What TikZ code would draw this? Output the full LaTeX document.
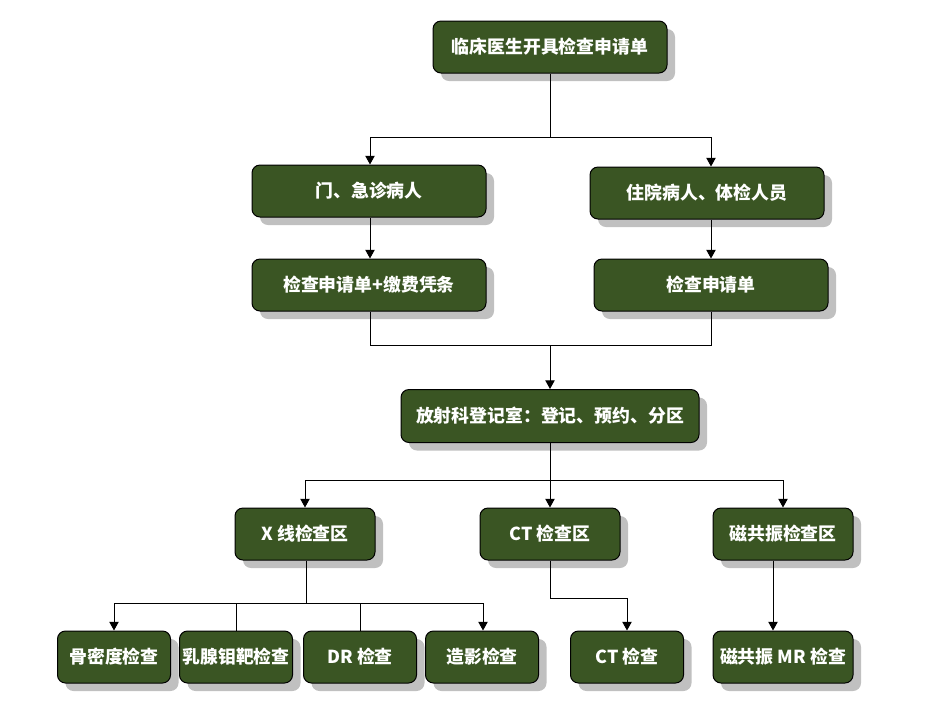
\documentclass[tikz,border=0pt]{standalone}
\usepackage{fontspec}
\setmainfont{Noto Sans CJK SC}
\usetikzlibrary{arrows.meta,shadows}
\definecolor{boxgreen}{RGB}{58,85,35}
\definecolor{shadowgray}{RGB}{192,192,192}
\begin{document}
\begin{tikzpicture}[x=0.75pt,y=-0.75pt,
  box/.style={draw=black, line width=0.75pt, fill=boxgreen, rounded corners=6pt,
    text=white, font=\bfseries\fontsize{13.4}{16}\selectfont, inner sep=0pt,
    minimum height=39pt,
    drop shadow={shadow xshift=6pt,shadow yshift=-6pt,fill=shadowgray,opacity=1}},
  wide/.style={minimum width=175.5pt},
  mid/.style={minimum width=105pt},
  small/.style={minimum width=84.75pt},
  conn/.style={line width=0.75pt, draw=black},
  arr/.style={conn, -{Triangle[length=6.5pt,width=7pt]}}]
\useasboundingbox (0,0) rectangle (948,719);

\node[box,wide] (n1) at (550,47) {临床医生开具检查申请单};
\node[box,wide] (n2) at (369,191) {门、急诊病人};
\node[box,wide] (n3) at (707,193) {住院病人、体检人员};
\node[box,wide] (n4) at (369,285) {检查申请单+缴费凭条};
\node[box,wide] (n5) at (711,285) {检查申请单};
\node[box,minimum width=223.5pt,minimum height=39.75pt] (n6) at (550,416) {放射科登记室：登记、预约、分区};
\node[box,mid] (n7) at (305,534) {X 线检查区};
\node[box,mid] (n8) at (550,534) {CT 检查区};
\node[box,mid] (n9) at (783,534) {磁共振检查区};
\node[box,small] (n10) at (114,657) {骨密度检查};
\node[box,small] (n11) at (236,657) {乳腺钼靶检查};
\node[box,small] (n12) at (360,657) {DR 检查};
\node[box,small] (n13) at (482,657) {造影检查};
\node[box,small] (n14) at (627,657) {CT 检查};
\node[box,mid] (n15) at (783,657) {磁共振 MR 检查};

% top fork
\coordinate (j1) at (550,137);
\coordinate (j1l) at (370,137);
\coordinate (j1r) at (711,137);
\draw[conn] (n1.south) -- (j1);
\draw[conn] (j1l) -- (j1r);
\draw[arr] (j1l) -- (j1l |- n2.north);
\draw[arr] (j1r) -- (j1r |- n3.north);
\draw[arr] (j1l |- n2.south) -- (j1l |- n4.north);
\draw[arr] (j1r |- n3.south) -- (j1r |- n5.north);

% merge
\coordinate (j2) at (550,345);
\draw[conn] (j1l |- n4.south) -- (j1l |- j2) -- (j1r |- j2) -- (j1r |- n5.south);
\draw[arr] (j2) -- (n6.north);

% second fork
\coordinate (j3) at (550,480);
\coordinate (j3l) at (305,480);
\coordinate (j3r) at (783,480);
\draw[conn] (n6.south) -- (j3);
\draw[conn] (j3l) -- (j3r);
\draw[arr] (j3l) -- (n7.north);
\draw[arr] (j3) -- (n8.north);
\draw[arr] (j3r) -- (n9.north);

% X-ray fork
\coordinate (j4) at (306,603);
\coordinate (j4a) at (114,603);
\coordinate (j4d) at (483,603);
\draw[conn] (n7.south -| j4) -- (j4);
\draw[conn] (j4a) -- (j4d);
\draw[arr] (j4a) -- (n10.north);
\draw[conn] (n11.north |- j4) -- (n11.north);
\draw[conn] (n12.north |- j4) -- (n12.north);
\draw[arr] (j4d) -- (j4d |- n13.north);

% CT
\coordinate (j5) at (550,598);
\draw[arr] (n8.south) -- (j5) -| (n14.north);

% MR
\coordinate (k) at (773,0);
\draw[arr] (k |- n9.south) -- (k |- n15.north);
\end{tikzpicture}
\end{document}
